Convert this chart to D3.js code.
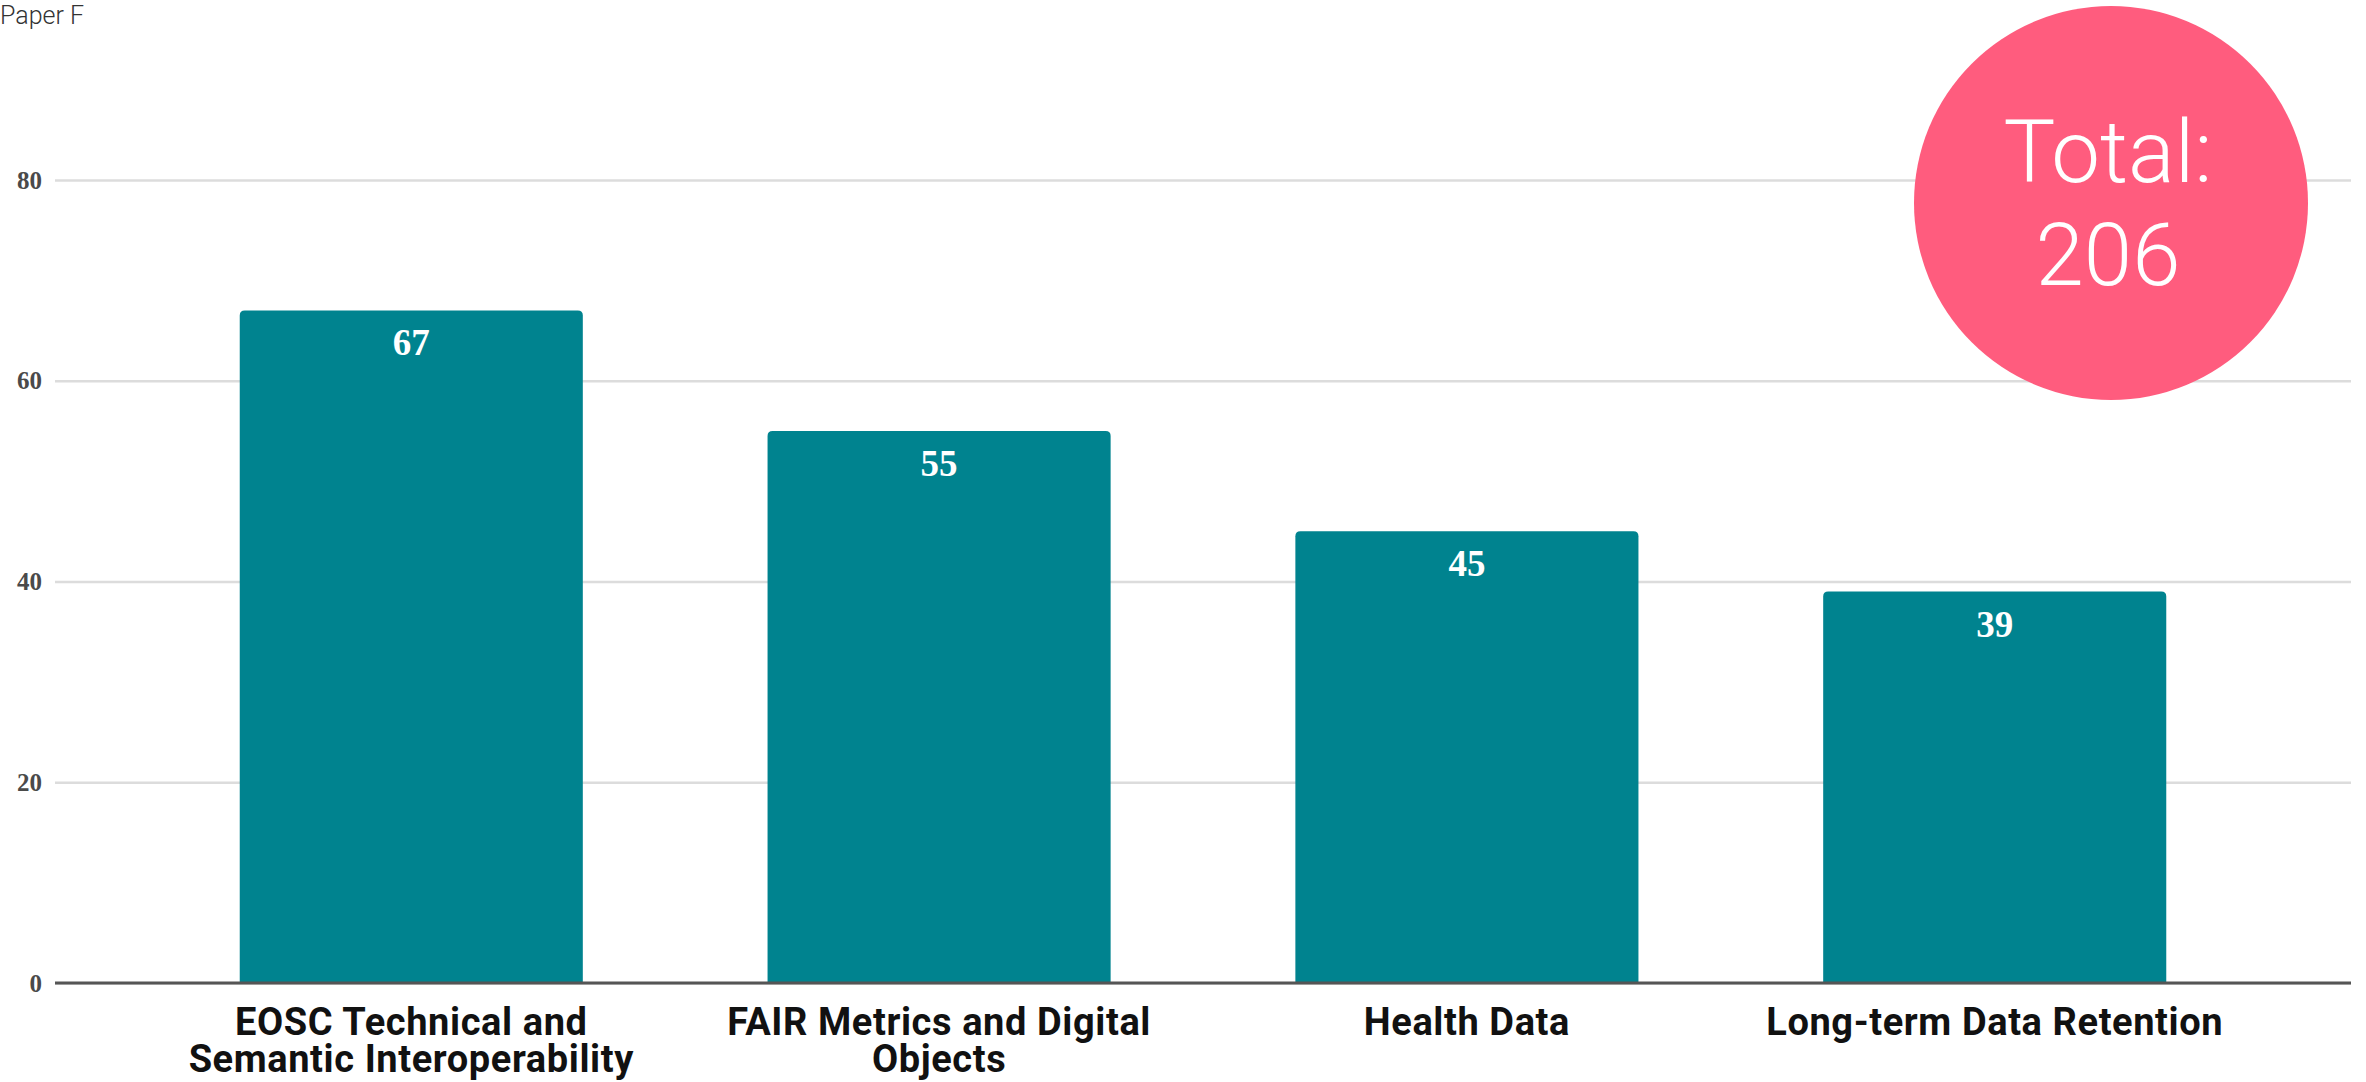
<!DOCTYPE html>
<html>
<head>
<meta charset="utf-8">
<script src="https://cdn.jsdelivr.net/npm/d3@7"></script>
<style>
  html, body { margin: 0; padding: 0; background: #fff; }
  #canvas { width: 2366px; height: 1082px; }
</style>
</head>
<body>
<div id="canvas" class="canvas"></div>
<script>
// data
var categories = ['EOSC Technical and Semantic Interoperability', 'FAIR Metrics and Digital Objects', 'Health Data', 'Long-term Data Retention'];
var labelLines = [['EOSC Technical and', 'Semantic Interoperability'], ['FAIR Metrics and Digital', 'Objects'], ['Health Data'], ['Long-term Data Retention']];
var counts = [67, 55, 45, 39];
var yTicks = [0, 20, 40, 60, 80];
var totalLines = ['Total:', '206'];

var outerWidth = 2366, outerHeight = 1082;

var svg = d3.select('.canvas')
    .append('svg')
    .attr('width', outerWidth)
    .attr('height', outerHeight);

// plot area
var x0 = 55, x1 = 2351, yBase = 983, yTop = 180;

var scaleX = d3.scaleBand()
    .domain(categories)
    .range([x0, x1])
    .paddingInner(0.35)
    .paddingOuter(0.35);
var scaleY = d3.scaleLinear()
    .domain([0, 80])
    .range([yBase, yTop]);

// title
svg.append('text')
    .attr('x', 0)
    .attr('y', 24)
    .style('font-family', 'Roboto, sans-serif')
    .style('font-weight', 300)
    .style('font-size', '25px')
    .style('fill', '#333')
    .text('Paper F');

// gridlines + y labels
var axisY = d3.axisLeft(scaleY)
    .tickValues(yTicks)
    .tickSize(-(x1 - x0))
    .tickPadding(13);

var gY = svg.append('g')
    .attr('class', 'axis axis-y')
    .attr('transform', 'translate(' + x0 + ',0)')
    .call(axisY);
gY.select('.domain').remove();
gY.selectAll('.tick line')
    .style('stroke', '#dcdcdc')
    .style('stroke-width', 2.5);
gY.selectAll('.tick text')
    .style('font-family', '"Liberation Serif", "Times New Roman", serif')
    .style('font-weight', 700)
    .style('font-size', '25px')
    .style('fill', '#4a4a4a');

var rows = categories.map(function(c, i){
    return {category: c, count: counts[i], lines: labelLines[i]};
});

// bars
var bars = svg.selectAll('.bar')
    .data(rows)
    .enter()
    .append('g')
    .attr('class', 'bar');

bars.append('path')
    .attr('d', function(d){
        var x = scaleX(d.category), w = scaleX.bandwidth();
        var y = scaleY(d.count), r = 5;
        return 'M' + x + ',' + yBase +
            'V' + (y + r) + 'Q' + x + ',' + y + ' ' + (x + r) + ',' + y +
            'H' + (x + w - r) + 'Q' + (x + w) + ',' + y + ' ' + (x + w) + ',' + (y + r) +
            'V' + yBase + 'Z';
    })
    .style('fill', '#00838f');

bars.append('text')
    .attr('x', function(d){ return scaleX(d.category) + scaleX.bandwidth() / 2; })
    .attr('y', function(d){ return scaleY(d.count) + 45; })
    .attr('text-anchor', 'middle')
    .style('font-family', '"Liberation Serif", "Times New Roman", serif')
    .style('font-weight', 700)
    .style('font-size', '37px')
    .style('fill', '#fff')
    .text(function(d){ return d.count; });

// zero line
svg.append('line')
    .attr('x1', x0).attr('x2', x1)
    .attr('y1', scaleY(0)).attr('y2', scaleY(0))
    .style('stroke', '#555')
    .style('stroke-width', 3);

// x labels
var xl = svg.selectAll('.xlabel')
    .data(rows)
    .enter()
    .append('text')
    .attr('class', 'xlabel')
    .attr('text-anchor', 'middle')
    .style('font-family', 'Roboto, sans-serif')
    .style('font-weight', 700)
    .style('font-size', '38px')
    .style('letter-spacing', '0.6px')
    .style('fill', '#111');
xl.selectAll('tspan')
    .data(function(d){
        var cx = scaleX(d.category) + scaleX.bandwidth() / 2;
        return d.lines.map(function(l){ return {t: l, cx: cx}; });
    })
    .enter()
    .append('tspan')
    .attr('x', function(d){ return d.cx; })
    .attr('y', function(d, i){ return 1035 + i * 37; })
    .text(function(d){ return d.t; });

// total badge
var badge = svg.append('g')
    .attr('transform', 'translate(2111,203)');
badge.append('circle')
    .attr('r', 197)
    .style('fill', '#ff5c7e');
badge.selectAll('text')
    .data(totalLines)
    .enter()
    .append('text')
    .attr('x', -3)
    .attr('y', function(d, i){ return -21 + i * 103; })
    .attr('text-anchor', 'middle')
    .style('font-family', 'Roboto, sans-serif')
    .style('font-weight', 300)
    .style('font-size', '87px')
    .style('fill', '#fff')
    .text(function(d){ return d; });
</script>
</body>
</html>
